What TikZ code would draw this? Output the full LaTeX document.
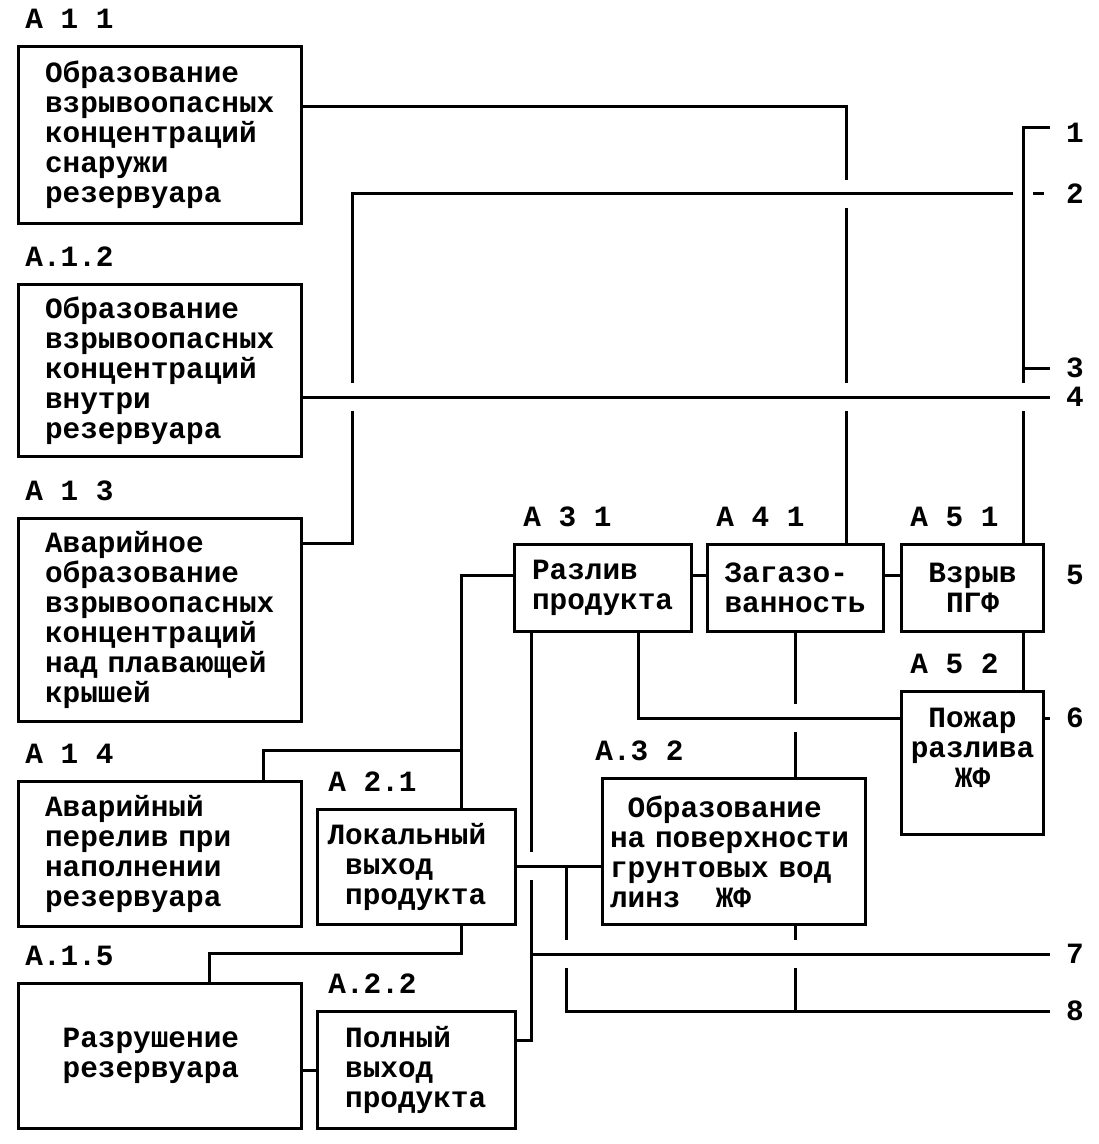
\documentclass[tikz,border=0pt]{standalone}
\usepackage{fontspec}
\newfontfamily\typewr{Liberation Mono}
\usetikzlibrary{positioning}
\newcommand\indt{\hphantom{0}}
\tikzset{
  blk/.style={draw, line width=1.5pt, anchor=north west, inner xsep=3pt, inner ysep=2pt, align=left},
  tag/.style={inner sep=0pt, anchor=south west},
  num/.style={inner xsep=8pt, inner ysep=0pt},
  ln/.style={line width=1.5pt},
}

\begin{document}
\begin{tikzpicture}[x=0.5pt, y=-0.5pt, font=\typewr\bfseries\fontsize{14.7}{15}\selectfont]
  \useasboundingbox (0,0) rectangle (1098,1144);

  \node[blk, minimum width=141.5pt, minimum height=88.5pt, text width=115pt] (a11) at (17,45)
    {Образование\\взрывоопасных\\концентраций\\снаружи\\резервуара};
  \node[blk, minimum width=141.5pt, minimum height=86pt, text width=115pt] (a12) at (17,283)
    {Образование\\взрывоопасных\\концентраций\\внутри\\резервуара};
  \node[blk, minimum width=141.5pt, minimum height=101.5pt, text width=115pt] (a13) at (17,517)
    {Аварийное\\образование\\взрывоопасных\\концентраций\\над плавающей\\крышей};
  \node[blk, minimum width=141.5pt, minimum height=72.5pt, text width=115pt] (a14) at (17,780)
    {Аварийный\\перелив при\\наполнении\\резервуара};
  \node[blk, minimum width=141.5pt, minimum height=72.5pt, text width=115pt] (a15) at (17,982)
    {\indt Разрушение\\\indt резервуара};
  \node[blk, minimum width=99pt, minimum height=57.5pt, text width=89pt] (a21) at (316,808)
    {Локальный\\\indt выход\\\indt продукта};
  \node[blk, minimum width=99pt, minimum height=58.5pt, text width=89pt] (a22) at (316,1010)
    {\indt Полный\\\indt выход\\\indt продукта};
  \node[blk, minimum width=88.5pt, minimum height=43.5pt, text width=71pt] (a31) at (513,543)
    {Разлив\\продукта};
  \node[blk, minimum width=88pt, minimum height=43.5pt, text width=71pt] (a41) at (706,543)
    {Загазо-\\ванность};
  \node[blk, minimum width=71pt, minimum height=43.5pt, align=center] (a51) at (900,543)
    {Взрыв\\ПГФ};
  \node[blk, minimum width=71pt, minimum height=71.5pt, align=center] (a52) at (900,690)
    {Пожар\\разлива\\ЖФ\\\mbox{}};
  \node[blk, minimum width=131.5pt, minimum height=73pt, text width=124pt] (a32) at (601,777)
    {\indt Образование\\на поверхности\\грунтовых вод\\линз\indt\indt ЖФ};

  \node[tag, above right=8pt and 4pt of a11.north west] (t11) {А 1 1};
  \node[tag, above right=8pt and 4pt of a12.north west] (t12) {А.1.2};
  \node[tag, above right=8pt and 4pt of a13.north west] (t13) {А 1 3};
  \node[tag, above right=8pt and 4pt of a14.north west] (t14) {А 1 4};
  \node[tag, above right=8pt and 4pt of a15.north west] (t15) {А.1.5};
  \node[tag, above right=8pt and 6pt of a21.north west] (t21) {А 2.1};
  \node[tag, above right=8pt and 6pt of a22.north west] (t22) {А.2.2};
  \node[tag, above right=8pt and 5pt of a31.north west] (t31) {А 3 1};
  \node[tag, above right=8pt and 5pt of a41.north west] (t41) {А 4 1};
  \node[tag, above right=8pt and 5pt of a51.north west] (t51) {А 5 1};
  \node[tag, above right=8pt and 5pt of a52.north west] (t52) {А 5 2};
  \node[tag, above right=8pt and -3pt of a32.north west] (t32) {А.3 2};

  \node[num] (n1) at (1075,133) {1};
  \node[num] (n2) at (1075,194) {2};
  \node[num] (n3) at (1075,368) {3};
  \node[num] (n4) at (1075,397) {4};
  \node[num] (n5) at (1075,575) {5};
  \node[num] (n6) at (1075,718) {6};
  \node[num] (n7) at (1075,954) {7};
  \node[num] (n8) at (1075,1011) {8};

  \coordinate (j1) at (846,107);
  \coordinate (j2) at (352,543);
  \coordinate (br) at (1023,128);
  \coordinate (j3) at (461,575);
  \coordinate (j4) at (263,750);
  \coordinate (j5) at (209,953);
  \coordinate (j6) at (638,718);
  \coordinate (j7) at (531,1040);
  \coordinate (j8) at (566,866);
  \coordinate (j9) at (299,1070);

  \draw[ln] (a11.east |- j1) -- (j1) -- ([yshift=7pt]j1 |- n2);
  \draw[ln] ([yshift=-7pt]j1 |- n2) -- ([yshift=7pt]j1 |- n4);
  \draw[ln] ([yshift=-7pt]j1 |- n4) -- (j1 |- a41.north);

  \draw[ln] (a13.east |- j2) -- (j2) -- ([yshift=-7pt]j2 |- n4);
  \draw[ln] ([yshift=7pt]j2 |- n4) -- (j2 |- n2) -- ([xshift=-5pt]br |- n2);
  \draw[ln] ([xshift=5pt]br |- n2) -- ([xshift=-3pt]n2.west);

  \draw[ln] (br -| n1.west) -- (br) -- ([yshift=7pt]br |- n4);
  \draw[ln] (br |- n3) -- (n3.west);
  \draw[ln] ([yshift=-7pt]br |- n4) -- (br |- a51.north);

  \draw[ln] (a12.east |- n4) -- (n4.west);

  \draw[ln] (a31.east |- j3) -- (a41.west |- j3);
  \draw[ln] (a41.east |- j3) -- (a51.west |- j3);
  \draw[ln] (br |- a51.south) -- (br |- a52.north);
  \draw[ln] (a52.east |- n6) -- (n6.west);

  \draw[ln] (j6 |- a31.south) -- (j6) -- (a52.west |- j6);
  \draw[ln] (a41.south) -- ([yshift=7pt]a41.south |- j6);
  \draw[ln] ([yshift=-7pt]a41.south |- j6) -- (a41.south |- a32.north);

  \draw[ln] (j3 |- a21.north) -- (j3) -- (a31.west |- j3);
  \draw[ln] (j4 |- a14.north) -- (j4) -- (j3 |- j4);
  \draw[ln] (j3 |- a21.south) -- (j3 |- j5) -- (j5) -- (j5 |- a15.north);
  \draw[ln] (a15.east |- j9) -- (a22.west |- j9);

  \draw[ln] (a22.east |- j7) -- (j7) -- ([yshift=-7pt]j7 |- j8);
  \draw[ln] ([yshift=7pt]j7 |- j8) -- (j7 |- a31.south);
  \draw[ln] (j7 |- n7) -- (n7.west);

  \draw[ln] (a21.east |- j8) -- (a32.west |- j8);
  \draw[ln] (j8) -- ([yshift=7pt]j8 |- n7);
  \draw[ln] ([yshift=-7pt]j8 |- n7) -- (j8 |- n8) -- (n8.west);
  \draw[ln] (a41.south |- a32.south) -- ([yshift=7pt]a41.south |- n7);
  \draw[ln] ([yshift=-7pt]a41.south |- n7) -- (a41.south |- n8);
\end{tikzpicture}
\end{document}
